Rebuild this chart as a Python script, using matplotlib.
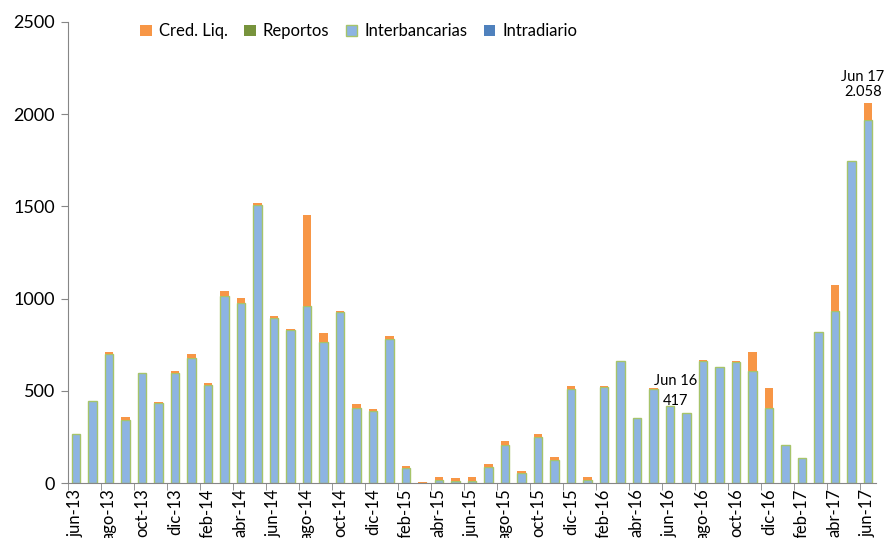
import matplotlib.pyplot as plt
import numpy as np

plt.rcParams['font.family'] = ['Lato', 'DejaVu Sans']

# monthly labels jun-13 .. jun-17
months = ['jun-13', 'jul-13', 'ago-13', 'sep-13', 'oct-13', 'nov-13', 'dic-13',
          'ene-14', 'feb-14', 'mar-14', 'abr-14', 'may-14', 'jun-14', 'jul-14',
          'ago-14', 'sep-14', 'oct-14', 'nov-14', 'dic-14', 'ene-15', 'feb-15',
          'mar-15', 'abr-15', 'may-15', 'jun-15', 'jul-15', 'ago-15', 'sep-15',
          'oct-15', 'nov-15', 'dic-15', 'ene-16', 'feb-16', 'mar-16', 'abr-16',
          'may-16', 'jun-16', 'jul-16', 'ago-16', 'sep-16', 'oct-16', 'nov-16',
          'dic-16', 'ene-17', 'feb-17', 'mar-17', 'abr-17', 'may-17', 'jun-17']

intradiario = [0] * 49
interbancarias = [266, 444, 699, 344, 596, 435, 594, 679, 531, 1016, 978, 1507,
                  897, 828, 962, 766, 928, 409, 391, 783, 82, 0, 14, 11, 11,
                  87, 208, 53, 250, 125, 511, 16, 520, 661, 351, 511, 417, 379,
                  661, 627, 658, 609, 409, 205, 134, 817, 935, 1746, 1968]
reportos = [0] * 49
cred_liq = [0, 0, 9, 13, 2, 3, 15, 20, 12, 24, 27, 11, 9, 9, 489, 49, 7, 17,
            13, 16, 10, 4, 17, 18, 22, 16, 18, 14, 18, 16, 16, 15, 5, 2, 4,
            3, 0, 0, 6, 1, 3, 103, 105, 0, 0, 0, 141, 0, 90]

c_orange = '#F79646'
c_green = '#77933C'
c_light = '#8DB4E2'
c_edge = '#A6C46A'
c_blue = '#4F81BD'

fig = plt.figure(figsize=(8.85, 5.38), dpi=100)
ax = fig.add_axes([0.0765, 0.1022, 0.9135, 0.857])

x = np.arange(len(months))
w = 0.5
b1 = np.array(intradiario, dtype=float)
b2 = b1 + np.array(interbancarias)
b3 = b2 + np.array(reportos)

ax.bar(x, intradiario, w, color=c_blue, linewidth=0, label='Intradiario')
ax.bar(x, interbancarias, w, bottom=b1, color=c_light, edgecolor=c_edge,
       linewidth=1.0, label='Interbancarias')
ax.bar(x, reportos, w, bottom=b2, color=c_green, linewidth=0, label='Reportos')
ax.bar(x, cred_liq, w, bottom=b3, color=c_orange, linewidth=0, label='Cred. Liq.')

# annotations
tot = b3 + np.array(cred_liq)
i16 = months.index('jun-16')
ax.text(x[i16] + 0.35, tot[i16] - 8, 'Jun 16\n417', ha='center', va='bottom',
        fontsize=10.5, linespacing=1.5)
i17 = months.index('jun-17')
ax.text(x[i17] - 0.3, tot[i17] + 25, 'Jun 17\n2.058', ha='center', va='bottom',
        fontsize=10.5, linespacing=1.1)

ax.set_xlim(-0.5, len(months) - 0.5)
ax.set_ylim(0, 2500)
ax.set_yticks([0, 500, 1000, 1500, 2000, 2500])
ax.tick_params(axis='y', labelsize=13, length=5, color='#868686', pad=4)

ax.set_xticks(x[::2])
ax.set_xticklabels(months[::2], rotation=90, fontsize=12)
ax.set_xticks(np.arange(-0.5, len(months), 2), minor=True)
ax.tick_params(axis='x', which='major', length=0, pad=4)
ax.tick_params(axis='x', which='minor', length=5, color='#868686')

for s in ['top', 'right']:
    ax.spines[s].set_visible(False)
for s in ['left', 'bottom']:
    ax.spines[s].set_color('#868686')

h, l = ax.get_legend_handles_labels()
order = [3, 2, 1, 0]
ax.legend([h[i] for i in order], [l[i] for i in order], loc='center',
          bbox_to_anchor=(0.36, 0.98), ncol=4, frameon=False, fontsize=12,
          handlelength=0.7, handleheight=0.7, handletextpad=0.4,
          columnspacing=1.0)

fig.savefig('out.png', dpi=100)
